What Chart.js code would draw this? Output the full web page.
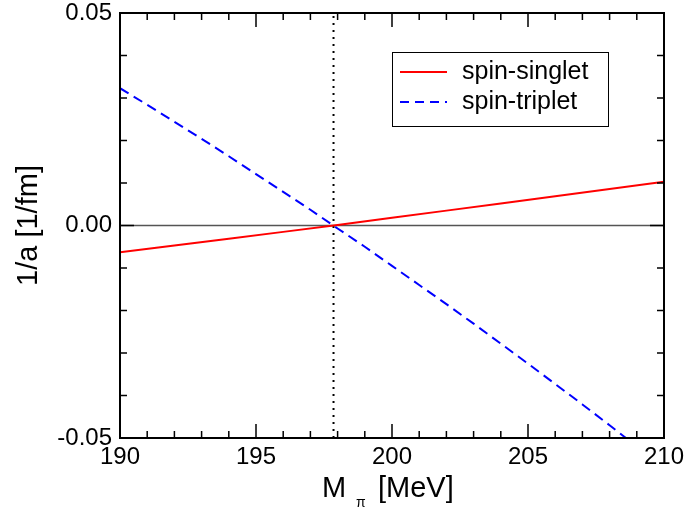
<!DOCTYPE html>
<html><head><meta charset="utf-8">
<script src="https://cdn.jsdelivr.net/npm/chart.js@4/dist/chart.umd.min.js"></script>
<style>html,body{margin:0;padding:0;background:#fff}#wrap{width:688px;height:509px;position:relative}</style>
</head><body><div id="wrap"><canvas id="c" width="688" height="509"></canvas></div>
<script>
// Data
const xSinglet = [190, 192, 194, 196, 198, 200, 202, 204, 206, 208, 210];
const ySinglet = [-0.0063, -0.0047, -0.0031, -0.0015, 0.0001, 0.0018, 0.0035, 0.0052, 0.0069, 0.0086, 0.0103];
const xTriplet = [190, 191, 192, 193, 194, 195, 196, 197, 198, 199, 200, 201, 202, 203, 204, 205, 206, 207, 208, 209];
const yTriplet = [0.0323, 0.0284, 0.0244, 0.0204, 0.0163, 0.0121, 0.0079, 0.0037, -0.0007, -0.0050, -0.0095, -0.0140, -0.0185, -0.0231, -0.0278, -0.0325, -0.0373, -0.0421, -0.0470, -0.0520];
const physicalPionMass = 197.85;
const xRange = [190, 210];
const yRange = [-0.05, 0.05];
const seriesLabels = ['spin-singlet', 'spin-triplet'];
const xTitleMain = 'M';
const xTitleSub = 'π';
const xTitleRest = '[MeV]';
const yTitle = '1/a [1/fm]';

const FONT = '"Liberation Sans", Arial, Helvetica, sans-serif';

const pts = (xs, ys) => xs.map((x, i) => ({x, y: ys[i]}));

const framePlugin = {
  id: 'frameTicks',
  afterDatasetsDraw(chart) {
    const {ctx, chartArea: a, scales: {x, y}} = chart;
    ctx.save();
    ctx.strokeStyle = '#000';
    ctx.lineWidth = 1.5;
    ctx.beginPath();
    x.ticks.forEach(t => {
      const px = x.getPixelForValue(t.value);
      const major = Math.abs(t.value % 5) < 1e-6;
      const len = major ? 14 : 7;
      ctx.moveTo(px, a.bottom); ctx.lineTo(px, a.bottom - len);
      ctx.moveTo(px, a.top); ctx.lineTo(px, a.top + len);
    });
    y.ticks.forEach(t => {
      const py = y.getPixelForValue(t.value);
      const r = t.value / 0.05;
      const major = Math.abs(r - Math.round(r)) < 1e-6;
      const len = major ? 14 : 7;
      ctx.moveTo(a.left, py); ctx.lineTo(a.left + len, py);
      ctx.moveTo(a.right, py); ctx.lineTo(a.right - len, py);
    });
    ctx.stroke();
    ctx.lineWidth = 2;
    ctx.strokeRect(a.left, a.top, a.right - a.left, a.bottom - a.top);

    // legend
    ctx.lineWidth = 1;
    ctx.strokeStyle = '#000';
    ctx.strokeRect(392.5, 52.5, 216, 74);
    ctx.font = '25px ' + FONT;
    ctx.fillStyle = '#000';
    ctx.textBaseline = 'middle';
    ctx.textAlign = 'left';
    ctx.lineWidth = 2;
    ctx.strokeStyle = '#ff0000';
    ctx.setLineDash([]);
    ctx.beginPath(); ctx.moveTo(400, 72); ctx.lineTo(447, 72); ctx.stroke();
    ctx.fillText(seriesLabels[0], 462, 72);
    ctx.strokeStyle = '#0000ff';
    ctx.setLineDash([9, 6]);
    ctx.beginPath(); ctx.moveTo(400, 102); ctx.lineTo(447, 102); ctx.stroke();
    ctx.setLineDash([]);
    ctx.fillText(seriesLabels[1], 462, 102);

    // x title with subscript
    const cx = (a.left + a.right) / 2;
    ctx.textBaseline = 'alphabetic';
    ctx.font = '29px ' + FONT;
    ctx.fillText(xTitleMain, cx - 70, 497);
    ctx.fillText(xTitleRest, cx - 14, 497);
    ctx.font = '14px ' + FONT;
    ctx.fillText(xTitleSub, cx - 36, 507);
    ctx.restore();
  }
};

new Chart(document.getElementById('c'), {
  type: 'scatter',
  data: {
    datasets: [
      {label: 'zero', data: pts(xRange, [0, 0]), showLine: true, borderColor: '#555', borderWidth: 1.5, pointRadius: 0, order: 4},
      {label: 'phys', data: pts([physicalPionMass, physicalPionMass], yRange), showLine: true, borderColor: '#000', borderWidth: 2, borderDash: [2, 5], pointRadius: 0, order: 3},
      {label: seriesLabels[0], data: pts(xSinglet, ySinglet), showLine: true, borderColor: '#ff0000', borderWidth: 2, pointRadius: 0, order: 2},
      {label: seriesLabels[1], data: pts(xTriplet, yTriplet), showLine: true, borderColor: '#0000ff', borderWidth: 2, borderDash: [10, 6], pointRadius: 0, order: 1, clip: 0}
    ]
  },
  options: {
    responsive: false,
    animation: false,
    devicePixelRatio: 1,
    layout: {padding: {top: 13, right: 24, left: 0, bottom: 0}},
    plugins: {legend: {display: false}, tooltip: {enabled: false}},
    scales: {
      x: {
        type: 'linear', min: xRange[0], max: xRange[1],
        grid: {display: false, drawTicks: false},
        border: {display: false},
        ticks: {
          stepSize: 1, padding: 5, color: '#000', autoSkip: false, maxRotation: 0,
          font: {family: FONT, size: 24},
          callback: v => (Math.abs(v % 5) < 1e-6 ? String(v) : '')
        },
        afterFit: s => { s.height = 71; s.paddingLeft = 0; s.paddingRight = 0; }
      },
      y: {
        type: 'linear', min: yRange[0], max: yRange[1],
        grid: {display: false, drawTicks: false},
        border: {display: false},
        ticks: {
          stepSize: 0.01, padding: 8, color: '#000', autoSkip: false,
          font: {family: FONT, size: 24},
          callback: v => { const r = v / 0.05; return Math.abs(r - Math.round(r)) < 1e-6 ? (Math.abs(v) < 1e-9 ? '0.00' : v.toFixed(2)) : ''; }
        },
        title: {display: true, text: yTitle, color: '#000', font: {family: FONT, size: 29}, padding: {top: 12, bottom: 4}},
        afterFit: s => { s.width = 120; s.paddingTop = 0; s.paddingBottom = 0; }
      }
    }
  },
  plugins: [framePlugin]
});
</script>
</body></html>
